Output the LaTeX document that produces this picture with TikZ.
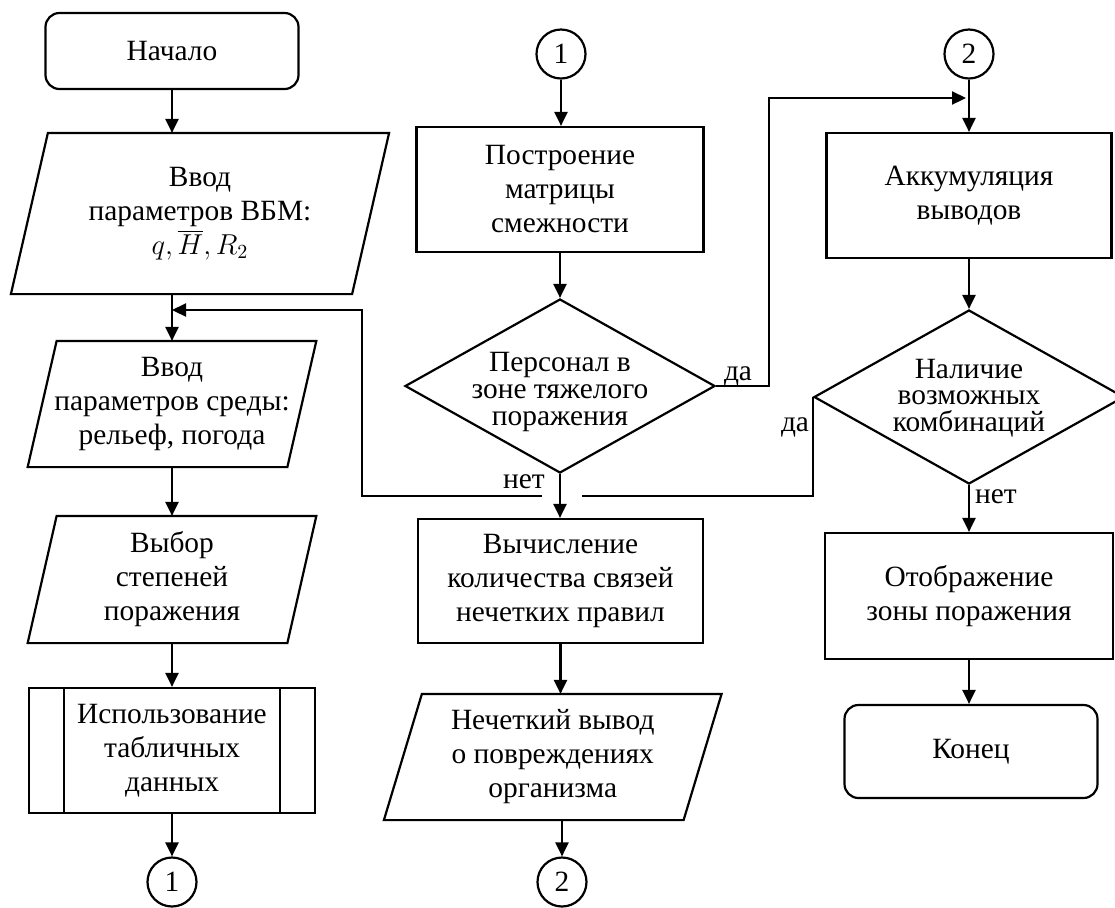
\documentclass[tikz,border=0pt]{standalone}
\usepackage{fontspec}
\setmainfont{Liberation Serif}
\usetikzlibrary{positioning,
        shapes.geometric,
        arrows.meta}

\begin{document}
\begin{tikzpicture}[x=0.5pt,y=-0.5pt,line width=1.1pt,
        every node/.style={align=center,inner sep=0pt,font=\fontsize{14.7}{17}\selectfont},
        term/.style={rectangle,draw,rounded corners=7pt,minimum width=126.5pt},
        proc/.style={rectangle,draw,minimum width=143pt,minimum height=62.5pt},
        io/.style={rectangle,minimum height=62.5pt},
        cond/.style={diamond,draw,aspect=1.78,minimum width=155pt,minimum height=87pt},
        condtext/.style={font=\fontsize{14.7}{13.3}\selectfont},
        conn/.style={circle,draw,minimum size=24.5pt},
        arr/.style={-{Triangle[length=7pt,width=6.5pt]}}]
        \useasboundingbox (0,0) rectangle (1115,907);

        \node [term,minimum height=38pt] (start) at (172,51) {Начало};
        \node [io,minimum width=169.5pt,minimum height=79.5pt] (in1) at (200,213.5) {Ввод\\параметров ВБМ:\\$q,\overline{H},R_2$};
        \node [io,minimum width=128.75pt,minimum height=62pt] (in2) at (172,404) {Ввод\\параметров среды:\\рельеф, погода};
        \node [io,minimum width=128.75pt] (sel) at (172,579.5) {Выбор\\степеней\\поражения};
        \node [proc] (tab) at (172,750.5) {Использование\\табличных\\данных};
        \node [conn] (c1a) at (172,882) {1};

        \node [conn] (c1b) at (561,54) {1};
        \node [proc,minimum width=143.5pt] (build) at (560,189.5) {Построение\\матрицы\\смежности};
        \node [cond] (dec1) at (560,386) {};
        \node [condtext] (dec1txt) at ([yshift=-3pt]dec1) {Персонал в\\зоне тяжелого\\поражения};
        \node [proc,minimum width=142.5pt,minimum height=62pt] (calc) at (560.5,581) {Вычисление\\количества связей\\нечетких правил};
        \node [io,minimum width=148.75pt,minimum height=62pt] (out) at (552.75,757) {Нечеткий вывод\\о повреждениях\\организма};
        \node [conn] (c2a) at (562,882) {2};

        \node [conn] (c2b) at (969,54) {2};
        \node [proc,minimum width=142.5pt] (acc) at (969,195.5) {Аккумуляция\\выводов};
        \node [cond] (dec2) at (969,397) {};
        \node [condtext] (dec2txt) at ([yshift=-0.5pt]dec2) {Наличие\\возможных\\комбинаций};
        \node [proc,minimum width=144pt,minimum height=63pt] (show) at (969,596) {Отображение\\зоны поражения};
        \node [term,minimum height=46.5pt] (fin) at (971,751.5) {Конец};

        \node (yes1) at (738,376) {да};
        \node (no1) at (524,482) {нет};
        \node (yes2) at (795,427) {да};
        \node (no2) at (996,497) {нет};

        \foreach \n/\s in {in1/9.25pt,in2/7.25pt,sel/7.25pt,out/9.5pt}
            \draw ([xshift=\s]\n.north west) -- ([xshift=\s]\n.north east)
                -- ([xshift=-\s]\n.south east) -- ([xshift=-\s]\n.south west) -- cycle;
        \draw ([xshift=18pt]tab.north west) -- ([xshift=18pt]tab.south west);
        \draw ([xshift=-18pt]tab.north east) -- ([xshift=-18pt]tab.south east);

        \coordinate (j1) at (172,310);
        \coordinate (j2) at (966,98);
        \coordinate (gapR) at (582,496);
        \coordinate (gapL) at (542,496);

        \draw [arr] (start) -- (start |- in1.north);
        \draw [arr] (in1.south -| in2) -- (in2.north);
        \draw [arr] (in2) -- (sel);
        \draw [arr] (sel) -- (tab);
        \draw [arr] (tab) -- (c1a);

        \draw [arr] (c1b) -- (c1b |- build.north);
        \draw [arr] (build.south -| dec1) -- (dec1.north);
        \draw [arr] (dec1.south) -- (dec1.south |- calc.north);
        \draw [arr] (calc.south) -- (calc.south |- out.north);
        \draw [arr] (out.south -| c2a) -- (c2a);

        \draw [arr] (c2b) -- (acc);
        \draw [arr] (acc) -- (dec2);
        \draw [arr] (dec2) -- (show);
        \draw [arr] (show.south) -- (show.south |- fin.north);

        \draw [arr] (dec1.east) -- ++(53,0) |- (j2);
        \draw (dec2.west) |- (gapR);
        \draw [arr] (gapL) -- ++(-180,0) |- (j1);
\end{tikzpicture}
\end{document}
